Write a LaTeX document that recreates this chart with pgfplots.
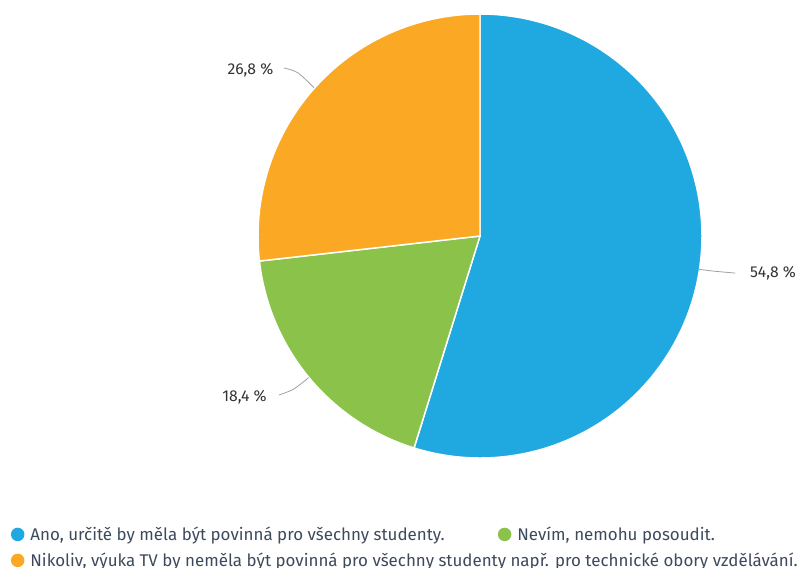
\documentclass[border=0pt]{standalone}
\usepackage{pgfplots}
\pgfplotsset{compat=1.18}
\usepackage{fontspec}
\setmainfont{Fira Sans}
\definecolor{cblue}{HTML}{20A8E0}
\definecolor{cgreen}{HTML}{8BC34A}
\definecolor{corange}{HTML}{FBA924}
\definecolor{ctext}{HTML}{333333}
\definecolor{clegend}{HTML}{3D4A5C}
\definecolor{cline}{HTML}{A0A0A0}
\begin{document}
\begin{tikzpicture}
% shares in percent
\pgfmathsetmacro\pA{54.8}
\pgfmathsetmacro\pB{18.4}
\pgfmathsetmacro\pC{26.8}
\pgfmathsetmacro\sA{90}
\pgfmathsetmacro\eA{\sA-\pA*3.6}
\pgfmathsetmacro\eB{\eA-\pB*3.6}
\pgfmathsetmacro\eC{\eB-\pC*3.6}
\begin{axis}[
  hide axis, scale only axis,
  width=333pt, height=333pt,
  xmin=-1, xmax=1, ymin=-1, ymax=1,
  at={(360pt,-177pt)}, anchor=center,
  clip=false,
  legend columns=2,
  legend cell align=left,
  legend style={draw=none, fill=none, at={(-0.566,-0.142)}, anchor=north west,
    font=\fontsize{12.7}{15}\selectfont, text=clegend,
    /tikz/every even column/.style={column sep=38pt},
    row sep=3.8pt},
]
\addplot[draw=white, line width=1.1pt, fill=cblue, domain=\eA:\sA, samples=150,
  legend image code/.code={\fill[cblue] (0pt,0pt) circle (4.5pt); \path (7pt,0pt);}]
  ({cos(x)},{sin(x)}) -- (axis cs:0,0) -- cycle;
\addlegendentry{Ano, určitě by měla být povinná pro všechny studenty.}
\addplot[draw=white, line width=1.1pt, fill=cgreen, domain=\eB:\eA, samples=60,
  legend image code/.code={\fill[cgreen] (0pt,0pt) circle (4.5pt); \path (7pt,0pt);}]
  ({cos(x)},{sin(x)}) -- (axis cs:0,0) -- cycle;
\addlegendentry{Nevím, nemohu posoudit.}
\addplot[draw=white, line width=1.1pt, fill=corange, domain=\eC:\eB, samples=80,
  legend image code/.code={\fill[corange] (0pt,0pt) circle (4.5pt); \path (7pt,0pt);}]
  ({cos(x)},{sin(x)}) -- (axis cs:0,0) -- cycle;
\addlegendentry{\makebox[0pt][l]{Nikoliv, výuka TV by neměla být povinná pro všechny studenty např. pro technické obory vzdělávání.}}
% leader lines
\addplot[forget plot, cline, line width=0.6pt, smooth] coordinates {(0.987,-0.150) (1.05,-0.158) (1.15,-0.167)};
\addplot[forget plot, cline, line width=0.6pt, smooth] coordinates {(-0.772,-0.638) (-0.84,-0.69) (-0.905,-0.716)};
\addplot[forget plot, cline, line width=0.6pt, smooth] coordinates {(-0.748,0.668) (-0.82,0.735) (-0.883,0.757)};
\node[anchor=west, text=ctext, font=\fontsize{11.8}{13}\selectfont] at (axis cs:1.195,-0.167) {54,8 \%};
\node[anchor=east, text=ctext, font=\fontsize{11.8}{13}\selectfont] at (axis cs:-0.94,-0.725) {18,4 \%};
\node[anchor=east, text=ctext, font=\fontsize{11.8}{13}\selectfont] at (axis cs:-0.91,0.748) {26,8 \%};
\end{axis}
\pgfresetboundingbox
\path[use as bounding box] (0pt,0pt) rectangle (603pt,-426pt);
\end{tikzpicture}
\end{document}
